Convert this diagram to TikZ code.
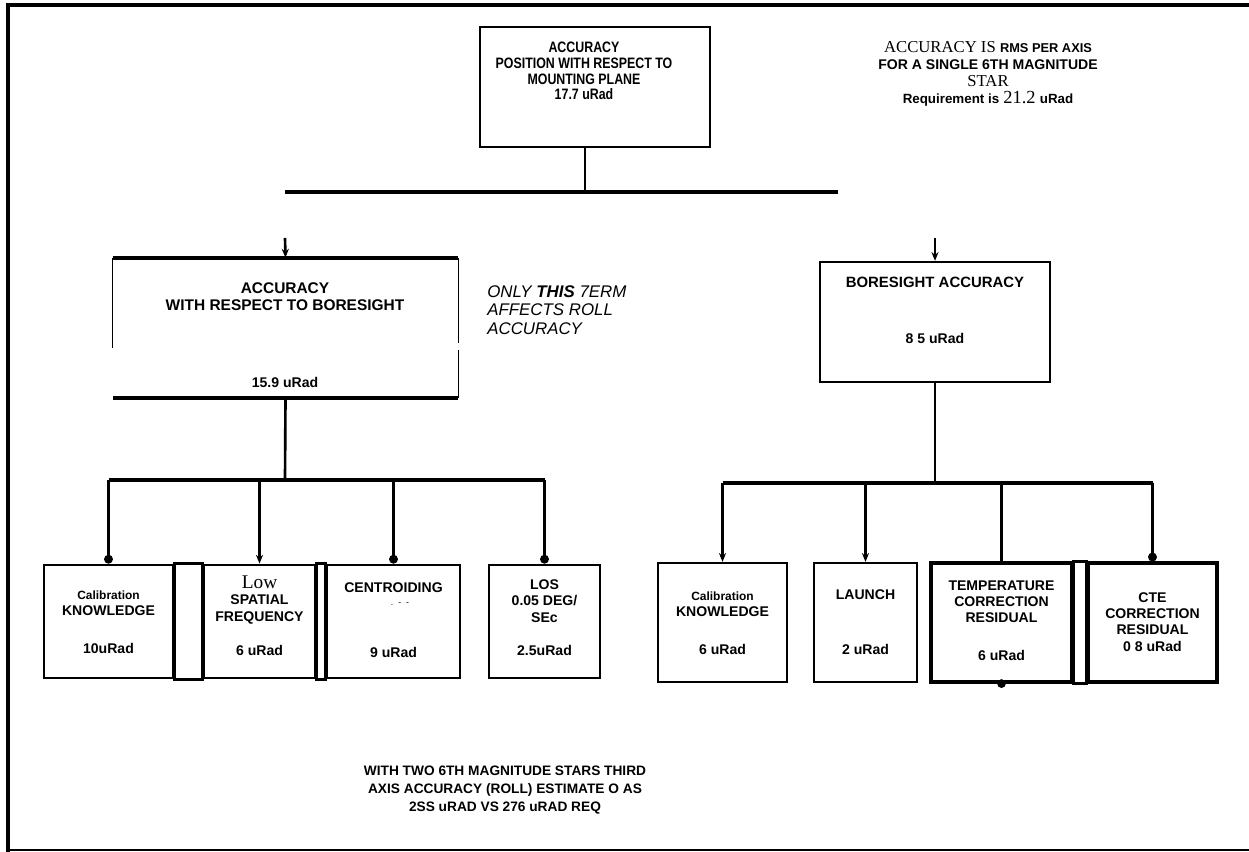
\documentclass[tikz,border=0pt]{standalone}
\usepackage{fontspec}
\setmainfont{Liberation Serif}
\setsansfont{Liberation Sans}
\newfontfamily\narrow[FakeStretch=0.82]{Liberation Sans}
\usetikzlibrary{arrows.meta}

\tikzset{
  box/.style={draw, line width=1.3pt, inner sep=0pt},
  hbox/.style={draw, line width=1.8pt, inner sep=0pt},
  heavy/.style={line width=2.2pt},
  wire/.style={line width=1.5pt},
  dotend/.style={wire, -{Circle[length=5pt]}},
  tipend/.style={wire, -{Stealth[length=5pt,width=4pt]}},
  txt/.style={align=center, inner sep=0pt, font=\sffamily\bfseries\fontsize{8}{9.2}\selectfont},
}

\begin{document}
\begin{tikzpicture}[x=0.02cm, y=-0.02cm]
\useasboundingbox (0,0) rectangle (1249,852);
% frame
\draw[line width=2.2pt] (8,852) -- (8,5) -- (1249,5);
\draw[line width=1.1pt] (8,850) -- (1249,850);

% top level
\node[box, minimum width=46mm, minimum height=24mm] (top) at (595,87) {};
\node[txt, font=\narrow\bfseries\fontsize{8.6}{9}\selectfont] (toptxt) at (584,71)
  {ACCURACY\\POSITION WITH RESPECT TO\\MOUNTING PLANE\\17.7 uRad};
\node[align=center, inner sep=0pt, font=\fontsize{9.5}{9.8}\selectfont] (spec) at (988,74)
  {ACCURACY IS {\sffamily\bfseries\fontsize{7.3}{8}\selectfont RMS PER AXIS}\\
   {\sffamily\bfseries\fontsize{8}{8}\selectfont FOR A SINGLE 6TH MAGNITUDE}\\
   STAR\\
   {\sffamily\bfseries\fontsize{7.6}{8}\selectfont Requirement is} {\fontsize{10.5}{10}\selectfont 21.2} {\sffamily\bfseries\fontsize{7.6}{8}\selectfont uRad}};

\coordinate (barL) at (285,192);
\coordinate (barR) at (838,192);
\draw[wire] (top.south -| 585,0) -- (barL -| 585,0);
\draw[heavy] (barL) -- (barR);

% second level
\node[minimum width=69mm, minimum height=28mm, inner sep=0pt] (acc) at (285.5,328) {};
\draw[heavy] (acc.north west) -- (acc.north east);
\draw[heavy] (acc.south west) -- (acc.south east);
\draw[line width=0.9pt] (acc.north west) -- ([yshift=-18mm]acc.north west);
\draw[line width=0.9pt] (acc.north east) -- ([yshift=-17mm]acc.north east);
\draw[line width=0.9pt] ([yshift=-18.5mm]acc.north east) -- (acc.south east);
\node[txt, font=\sffamily\bfseries\fontsize{8.8}{9.5}\selectfont] (acctxt) at (285,297) {ACCURACY\\WITH RESPECT TO BORESIGHT};
\node[txt] (accval) at (285,382) {15.9 uRad};
\node[align=left, anchor=west, inner sep=0pt, font=\sffamily\itshape\fontsize{9.6}{10.4}\selectfont] (roll) at (487,310)
  {ONLY {\bfseries THIS} 7ERM\\AFFECTS ROLL\\ACCURACY};

\node[box, minimum width=46mm, minimum height=24mm] (bore) at (935,322) {};
\node[txt, font=\sffamily\bfseries\fontsize{8.5}{9}\selectfont] (boretxt) at (935,282) {BORESIGHT ACCURACY};
\node[txt] (boreval) at (935,338) {8 5 uRad};

\coordinate (accin) at (285,238);
\coordinate (borein) at (935,238);
\draw[tipend] (accin) -- (acc.north);
\draw[tipend] (borein) -- (bore.north);

% left branch
\node[box, line width=1.6pt, minimum width=25.8mm, minimum height=22.6mm] (cal1) at (108.5,621.5) {};
\node[box, line width=1.6pt, minimum width=22.2mm, minimum height=22.6mm] (low) at (259.5,621.5) {};
\node[box, line width=1.6pt, minimum width=26.6mm, minimum height=22.6mm] (cent) at (393.5,621.5) {};
\node[box, line width=1.6pt, minimum width=22.2mm, minimum height=22.6mm] (los) at (544.5,621.5) {};
\draw[box, line width=1.6pt] (cal1.north east) rectangle (low.south west);
\draw[box, line width=1.6pt] (low.north east) rectangle (cent.south west);

\coordinate (lbar) at (285,480);
\draw[wire] (acc.south) -- (lbar);
\draw[heavy] (cal1.north |- lbar) -- (los.north |- lbar);
\draw[dotend] (cal1.north |- lbar) -- (cal1.north);
\draw[tipend] (low.north |- lbar) -- (low.north);
\draw[dotend] (cent.north |- lbar) -- (cent.north);
\draw[dotend] (los.north |- lbar) -- (los.north);

\node[txt] (cal1txt) at (108.5,603) {{\fontsize{6.8}{8}\selectfont Calibration}\\KNOWLEDGE};
\node[txt] (cal1val) at (108.5,648) {10uRad};
\node[txt] (lowtxt) at (259.5,600) {{\rmfamily\mdseries\fontsize{11}{9}\selectfont Low}\\SPATIAL\\FREQUENCY};
\node[txt] (lowval) at (259.5,650) {6 uRad};
\node[txt] (centtxt) at (393.5,588) {CENTROIDING};
\node[txt, font=\sffamily\fontsize{5}{5}\selectfont] (centmark) at (400,604) {.\ \ - \ -};
\node[txt] (centval) at (393.5,652) {9 uRad};
\node[txt] (lostxt) at (544.5,601) {LOS\\0.05 DEG/\\SEc};
\node[txt] (losval) at (544.5,650) {2.5uRad};

% right branch
\node[box, minimum width=25.8mm, minimum height=23.8mm] (cal2) at (722.5,622.5) {};
\node[box, minimum width=20.6mm, minimum height=23.8mm] (launch) at (865.5,622.5) {};
\node[hbox, minimum width=28.2mm, minimum height=23.8mm] (temp) at (1001.5,622.5) {};
\node[hbox, minimum width=25.8mm, minimum height=23.8mm] (cte) at (1152.5,622.5) {};
\draw[hbox] (temp.north east) rectangle (cte.south west);

\coordinate (rbar) at (935,483);
\draw[wire] (bore.south) -- (rbar);
\draw[heavy] (cal2.north |- rbar) -- (cte.north |- rbar);
\draw[tipend] (cal2.north |- rbar) -- (cal2.north);
\draw[tipend] (launch.north |- rbar) -- (launch.north);
\draw[wire] (temp.north |- rbar) -- (temp.north);
\draw[dotend] (cte.north |- rbar) -- (cte.north);
\fill (temp.south) circle[radius=2.5pt];

\node[txt] (cal2txt) at (722.5,604) {{\fontsize{6.8}{8}\selectfont Calibration}\\KNOWLEDGE};
\node[txt] (cal2val) at (722.5,649) {6 uRad};
\node[txt] (launchtxt) at (865.5,595) {LAUNCH};
\node[txt] (launchval) at (865.5,649) {2 uRad};
\node[txt] (temptxt) at (1001.5,602) {TEMPERATURE\\CORRECTION\\RESIDUAL};
\node[txt] (tempval) at (1001.5,655) {6 uRad};
\node[txt] (ctetxt) at (1152.5,622) {CTE\\CORRECTION\\RESIDUAL\\0 8 uRad};

% roll note
\node[txt, font=\sffamily\bfseries\fontsize{7.8}{10.2}\selectfont] (twostars) at (505,790)
  {WITH TWO 6TH MAGNITUDE STARS THIRD\\AXIS ACCURACY (ROLL) ESTIMATE O AS\\2SS uRAD VS 276 uRAD REQ};
\end{tikzpicture}
\end{document}
